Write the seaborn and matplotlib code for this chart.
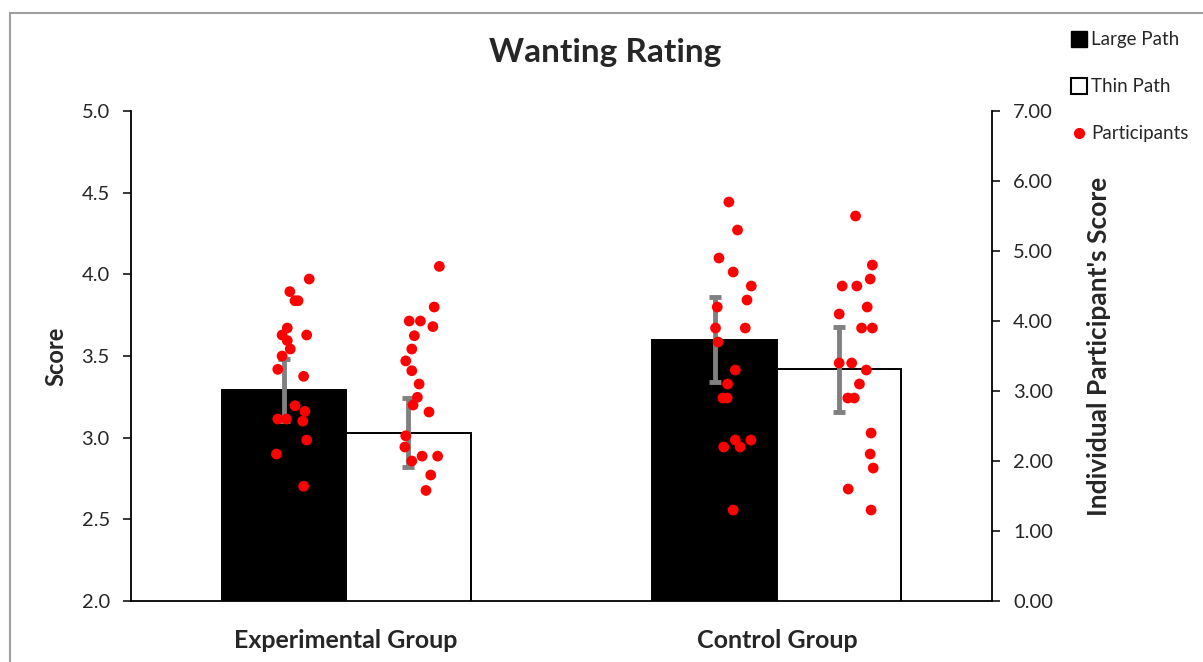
import numpy as np
import pandas as pd
import matplotlib
matplotlib.use("Agg")
import matplotlib.pyplot as plt
from matplotlib.lines import Line2D
import seaborn as sns

sns.set_style("white")
plt.rcParams["font.family"] = ["Lato", "DejaVu Sans"]

# ---- data ----
groups = ["Experimental Group", "Control Group"]
paths = ["Large Path", "Thin Path"]
mean_large = [3.29, 3.60]
mean_thin = [3.03, 3.42]
err_large = [0.19, 0.26]
err_thin = [0.21, 0.26]

# individual participants (right axis) and their horizontal jitter
exp_large = [4.60, 4.42, 4.29, 4.29, 3.90, 3.80, 3.80, 3.72, 3.60, 3.50,
             3.31, 3.21, 2.79, 2.71, 2.60, 2.60, 2.57, 2.30, 2.10, 1.64]
exp_large_jit = [0.059, 0.014, 0.026, 0.033, 0.008, -0.004, 0.053, 0.008, 0.015, -0.004,
                 -0.014, 0.046, 0.026, 0.049, -0.014, 0.006, 0.044, 0.053, -0.017, 0.046]
exp_thin = [4.78, 4.20, 4.00, 4.00, 3.92, 3.79, 3.60, 3.43, 3.29, 3.10,
            2.91, 2.80, 2.70, 2.36, 2.20, 2.00, 2.07, 2.07, 1.80, 1.58]
exp_thin_jit = [0.072, 0.060, 0.002, 0.028, 0.057, 0.014, 0.008, -0.006, 0.008, 0.025,
                0.021, 0.011, 0.048, -0.006, -0.008, 0.008, 0.032, 0.068, 0.052, 0.041]
ctl_large = [5.70, 5.30, 4.90, 4.70, 4.50, 4.30, 4.20, 3.90, 3.90, 3.70,
             3.30, 3.10, 2.90, 2.90, 2.30, 2.30, 2.20, 2.20, 1.30]
ctl_large_jit = [0.033, 0.053, 0.010, 0.043, 0.085, 0.075, 0.006, 0.002, 0.071, 0.008,
                 0.048, 0.030, 0.019, 0.029, 0.048, 0.084, 0.021, 0.059, 0.043]
ctl_thin = [5.50, 4.80, 4.60, 4.50, 4.50, 4.20, 4.10, 3.90, 3.90, 3.40,
            3.40, 3.30, 3.10, 2.90, 2.90, 2.40, 2.10, 1.90, 1.60, 1.30]
ctl_thin_jit = [0.038, 0.077, 0.072, 0.007, 0.041, 0.065, 0.000, 0.052, 0.077, 0.000,
                0.029, 0.063, 0.047, 0.020, 0.035, 0.074, 0.072, 0.079, 0.021, 0.074]

BAR_W = 0.578  # total width of one group

df_bars = pd.DataFrame({
    "group": groups * 2,
    "path": [paths[0]] * 2 + [paths[1]] * 2,
    "score": mean_large + mean_thin,
})

fig = plt.figure(figsize=(12.03, 6.62), dpi=100)
ax = fig.add_axes([0.1086, 0.0921, 0.7163, 0.7402])

sns.barplot(data=df_bars, x="group", y="score", hue="path", order=groups,
            hue_order=paths, palette={paths[0]: "black", paths[1]: "white"},
            width=BAR_W, errorbar=None, edgecolor="black", linewidth=1.4,
            legend=False, ax=ax)

# error bars at bar centres
off = BAR_W / 4
xpos = np.arange(len(groups))
ax.errorbar(xpos - off, mean_large, yerr=err_large, fmt="none", ecolor="#808080",
            elinewidth=3.5, capsize=4.5, capthick=3.5, zorder=5)
ax.errorbar(xpos + off, mean_thin, yerr=err_thin, fmt="none", ecolor="#808080",
            elinewidth=3.5, capsize=4.5, capthick=3.5, zorder=5)

ax.set_ylim(2.0, 5.0)
ax.set_xlim(-0.5, 1.5)
ax.set_yticks(np.arange(2.0, 5.01, 0.5))
ax.set_yticklabels([f"{v:.1f}" for v in np.arange(2.0, 5.01, 0.5)], fontsize=14.5)
ax.set_xticks(xpos)
ax.set_xticklabels(groups, fontsize=18, fontweight="bold")
ax.tick_params(axis="x", length=0, pad=20)
ax.tick_params(axis="y", direction="out", length=6, width=1.3, left=True, pad=9)
ax.set_xlabel("")
ax.set_ylabel("Score", fontsize=17, fontweight="bold", labelpad=10)
for side in ["top", "right"]:
    ax.spines[side].set_visible(False)
for side in ["left", "bottom"]:
    ax.spines[side].set_color("black")
    ax.spines[side].set_linewidth(1.3)

# participants on the secondary axis
ax2 = ax.twinx()
sets = [(0, -1, exp_large, exp_large_jit), (0, 1, exp_thin, exp_thin_jit),
        (1, -1, ctl_large, ctl_large_jit), (1, 1, ctl_thin, ctl_thin_jit)]
pts = []
for g, side, vals, jit in sets:
    for v, j in zip(vals, jit):
        pts.append({"x": g + side * off + j, "y": v})
df_pts = pd.DataFrame(pts)
sns.scatterplot(data=df_pts, x="x", y="y", color="red", s=60, edgecolor="none",
                ax=ax2, zorder=6)
ax2.set_ylim(0, 7)
ax2.set_xlim(-0.5, 1.5)
ax2.set_yticks(np.arange(0, 7.01, 1))
ax2.set_yticklabels([f"{v:.2f}" for v in np.arange(0, 7.01, 1)], fontsize=14.5)
ax2.tick_params(axis="y", direction="out", length=6, width=1.3, right=True, pad=9)
ax2.set_ylabel("Individual Participant's Score", fontsize=19, fontweight="bold",
               labelpad=24)
ax2.yaxis.label.set_y(0.52)
ax2.set_xlabel("")
for side in ["top", "left", "bottom"]:
    ax2.spines[side].set_visible(False)
ax2.spines["right"].set_color("black")
ax2.spines["right"].set_linewidth(1.3)

fig.text(0.503, 0.921, "Wanting Rating", ha="center", va="center",
         fontsize=24, fontweight="bold")

handles = [
    Line2D([], [], marker="s", linestyle="none", markersize=11,
           markerfacecolor="black", markeredgecolor="black"),
    Line2D([], [], marker="s", linestyle="none", markersize=11,
           markerfacecolor="white", markeredgecolor="black", markeredgewidth=1.5),
    Line2D([], [], marker="o", linestyle="none", markersize=7,
           markerfacecolor="red", markeredgecolor="red"),
]
fig.legend(handles, ["Large Path", "Thin Path", "Participants"],
           loc="upper left", bbox_to_anchor=(0.874, 0.978), frameon=False,
           fontsize=13.5, labelspacing=1.6, handletextpad=0.1, handlelength=1.1)

# outer frame (partly visible)
fig.add_artist(Line2D([10 / 1203, 10 / 1203], [0, 1 - 13 / 662],
                      transform=fig.transFigure, color="#a0a0a0", lw=1.5))
fig.add_artist(Line2D([10 / 1203, 1], [1 - 13 / 662, 1 - 13 / 662],
                      transform=fig.transFigure, color="#a0a0a0", lw=1.5))

fig.savefig("out.png", dpi=100)
